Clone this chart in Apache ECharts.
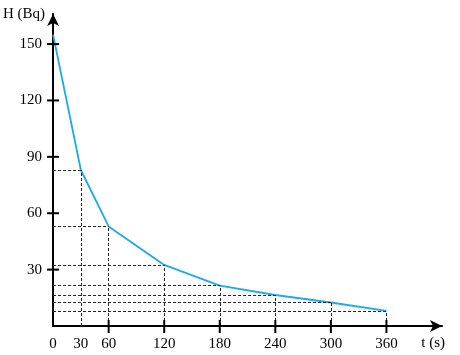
<!DOCTYPE html>
<html>
<head>
<meta charset="utf-8">
<script src="https://cdn.jsdelivr.net/npm/echarts@6/dist/echarts.min.js"></script>
<style>html,body{margin:0;padding:0;background:#fff}#c{width:460px;height:355px}</style>
</head>
<body>
<div id="c"></div>
<script>
var times = [0, 30, 60, 120, 180, 240, 300, 360];
var activity = [155, 83, 53, 32.5, 21.5, 16.5, 12.5, 8];
var xLabels = [0, 30, 60, 120, 180, 240, 300, 360];
var xTicks = [60, 120, 180, 240, 300, 360];
var yTicks = [30, 60, 90, 120, 150];
var yName = 'H (Bq)';
var xName = 't (s)';

var font = 'Liberation Serif';
var fs = 15;
var pts = times.map(function (t, i) { return [t, activity[i]]; });
var guides = [];
for (var i = 1; i < pts.length; i++) {
  guides.push([{ coord: [0, pts[i][1]] }, { coord: [pts[i][0], pts[i][1]] }]);
  guides.push([{ coord: [pts[i][0], 0] }, { coord: [pts[i][0], pts[i][1]] }]);
}
var chart = echarts.init(document.getElementById('c'));
var axisLineStyle = { color: '#000', width: 2 };
chart.setOption({
  animation: false,
  grid: { left: 52, right: 18, top: 14, bottom: 29 },
  xAxis: {
    type: 'value', min: 0, max: 420,
    name: xName, nameLocation: 'end', nameGap: 3,
    nameTextStyle: { fontFamily: font, fontSize: fs, color: '#000', align: 'right', verticalAlign: 'top', padding: [10, 0, 0, 0] },
    axisLine: { show: true, lineStyle: axisLineStyle, symbol: ['none', 'arrow'], symbolSize: [9, 12] },
    axisTick: { show: false },
    axisLabel: { customValues: xLabels, margin: 11, color: '#000', fontFamily: font, fontSize: fs },
    splitLine: { show: false }
  },
  yAxis: {
    type: 'value', min: 0, max: 166,
    name: yName, nameLocation: 'end', nameGap: 0,
    nameTextStyle: { fontFamily: font, fontSize: fs, color: '#000', align: 'right', verticalAlign: 'middle', padding: [0, 8, 0, 0] },
    axisLine: { show: true, lineStyle: axisLineStyle, symbol: ['none', 'arrow'], symbolSize: [9, 12] },
    axisTick: { show: false },
    axisLabel: { customValues: yTicks, margin: 11, color: '#000', fontFamily: font, fontSize: fs },
    splitLine: { show: false }
  },
  series: [{
    type: 'line', data: pts, symbol: 'none',
    lineStyle: { color: '#1aabe8', width: 1.8 },
    z: 3,
    markLine: {
      silent: true, symbol: ['none', 'none'], label: { show: false },
      lineStyle: { color: '#222', width: 1, type: [3, 2] },
      data: guides
    }
  }, {
    type: 'scatter', silent: true, z: 10, clip: false,
    data: xTicks.map(function (v) { return [v, 0]; }),
    symbol: 'rect', symbolSize: [2, 13], symbolOffset: [0, 0.5],
    itemStyle: { color: '#000', opacity: 1 }
  }, {
    type: 'scatter', silent: true, z: 10, clip: false,
    data: yTicks.map(function (v) { return [0, v]; }),
    symbol: 'rect', symbolSize: [12, 2],
    itemStyle: { color: '#000', opacity: 1 }
  }]
});
</script>
</body>
</html>
